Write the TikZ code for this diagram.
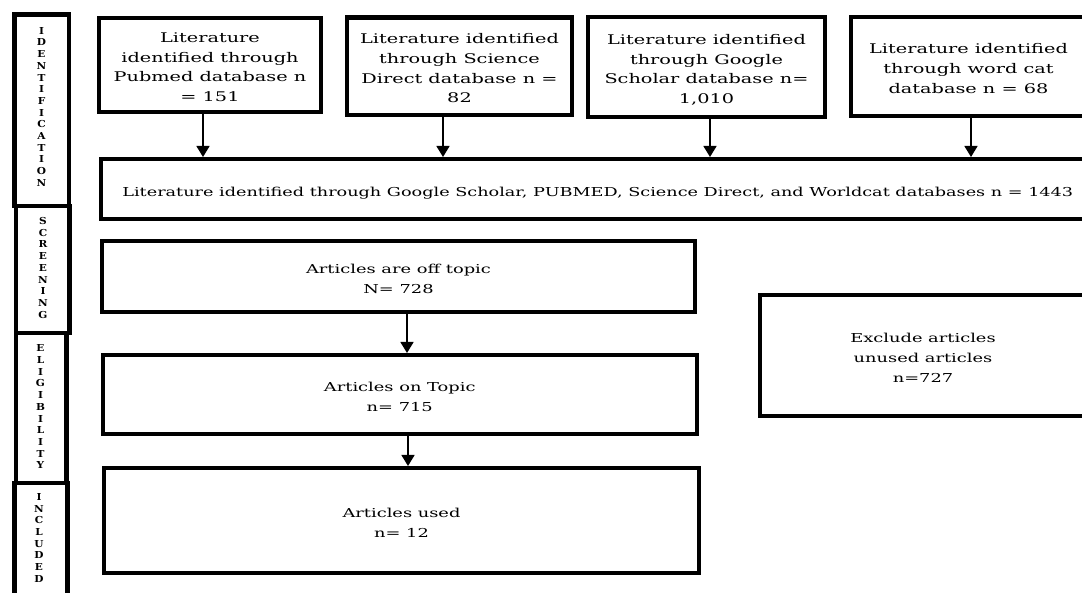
\documentclass[tikz,border=0pt]{standalone}
\usepackage{fontspec}
\setmainfont{DejaVu Serif}
\usepackage{graphicx}
\usetikzlibrary{arrows.meta}
\newcommand\stx[2][1.45]{\raisebox{-3pt}[\height][\depth]{\scalebox{#1}[1]{\begin{tabular}{@{}c@{}}#2\end{tabular}}}}
\newcommand\vlab[1]{\scalebox{1.1}[1]{\begin{tabular}{@{}c@{}}#1\end{tabular}}}
\begin{document}
\begin{tikzpicture}[x=1pt,y=-1pt,
  box/.style={draw, line width=4pt, inner sep=0pt, font=\fontsize{12.3}{20}\selectfont},
  topbox/.style={box, line width=4.5pt, font=\fontsize{13.3}{19.7}\selectfont},
  stage/.style={draw, line width=4.5pt, inner sep=0pt},
  vtext/.style={inner sep=0pt, font=\fontsize{9.6}{11.7}\selectfont\bfseries},
  arr/.style={line width=1.5pt, -{Triangle[width=13pt,length=11pt]}}]
\useasboundingbox (0,0) rectangle (1082,593);
\fill[white] (0,0) rectangle (1082,593);
% stage boxes
\node[stage, minimum width=54.5pt, minimum height=191.5pt] (s1) at (41.75,110.25) {};
\node[stage, minimum width=53.5pt, minimum height=127pt] (s2) at (42.75,269.5) {};
\node[stage, minimum width=50.5pt, minimum height=150pt] (s3) at (41.25,408) {};
\node[stage, minimum width=53pt, minimum height=122pt] (s4) at (41,544) {};
\node[vtext] (t1) at (41.5,108) {\vlab{I\\D\\E\\N\\T\\I\\F\\I\\C\\A\\T\\I\\O\\N}};
\node[vtext] (t2) at (43,269) {\vlab{S\\C\\R\\E\\E\\N\\I\\N\\G}};
\node[vtext] (t3) at (40.5,408) {\vlab{E\\L\\I\\G\\I\\B\\I\\L\\I\\T\\Y}};
\node[vtext] (t4) at (39,539) {\vlab{I\\N\\C\\L\\U\\D\\E\\D}};
% top boxes
\node[topbox, minimum width=222pt, minimum height=94pt] (b1) at (210,65)
  {\stx{Literature\\identified through\\Pubmed database n\\= 151}};
\node[topbox, minimum width=225pt, minimum height=97.5pt] (b2) at (459.5,66.25)
  {\stx{Literature identified\\through Science\\Direct database n =\\82}};
\node[topbox, minimum width=237pt, minimum height=100pt] (b3) at (706.5,67)
  {\stx{Literature identified\\through Google\\Scholar database n=\\1,010}};
\node[topbox, minimum width=235pt, minimum height=99pt] (b4) at (968.5,66.5)
  {\stx{Literature identified\\through word cat\\database n = 68}};
% main boxes
\node[box, minimum width=994.5pt, minimum height=60.5pt] (big) at (597.75,189.25)
  {\stx[1.435]{Literature identified through Google Scholar, PUBMED, Science Direct, and Worldcat databases n = 1443}};
\node[box, minimum width=593pt, minimum height=71pt] (off) at (398.5,276.5)
  {\stx{Articles are off topic\\N= 728}};
\node[box, minimum width=594.5pt, minimum height=79pt] (on) at (399.75,394.5)
  {\stx{Articles on Topic\\n= 715}};
\node[box, minimum width=595pt, minimum height=105pt] (used) at (401.5,520.5)
  {\stx{Articles used\\n= 12}};
\node[box, minimum width=326pt, minimum height=121pt] (excl) at (923,355.5)
  {\stx{Exclude articles\\unused articles\\n=727}};
% arrows
\draw[arr] ([xshift=-7pt]b1.south) -- ([xshift=-7pt]b1.south |- big.north);
\draw[arr] ([xshift=-16.5pt]b2.south) -- ([xshift=-16.5pt]b2.south |- big.north);
\draw[arr] ([xshift=3.5pt]b3.south) -- ([xshift=3.5pt]b3.south |- big.north);
\draw[arr] ([xshift=2.5pt]b4.south) -- ([xshift=2.5pt]b4.south |- big.north);
\draw[arr] ([xshift=8.5pt]off.south) -- ([xshift=8.5pt]off.south |- on.north);
\draw[arr] ([xshift=8.25pt]on.south) -- ([xshift=8.25pt]on.south |- used.north);
\end{tikzpicture}
\end{document}
